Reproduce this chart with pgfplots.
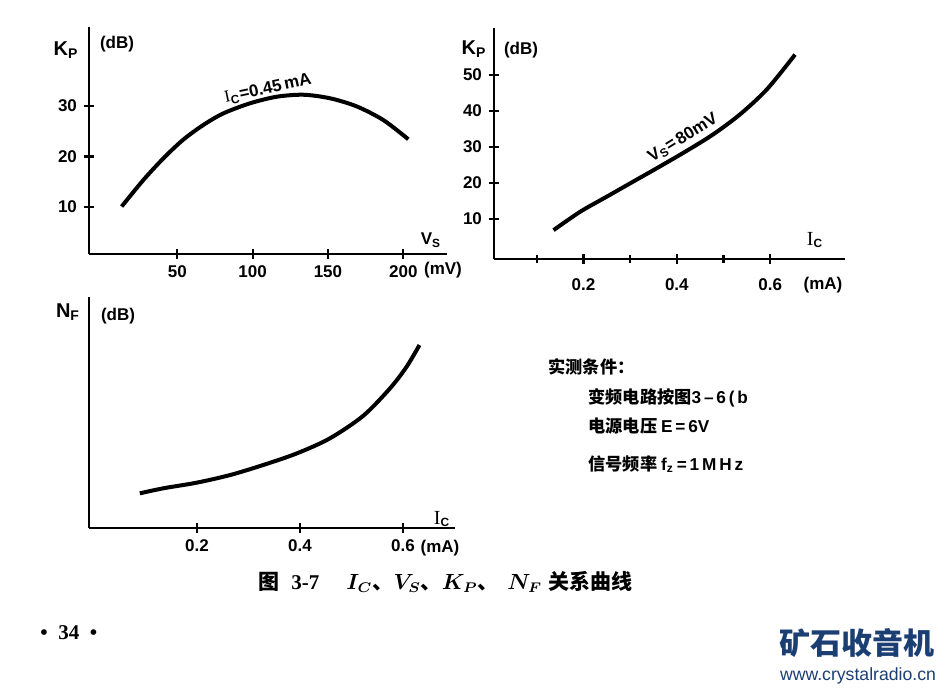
\documentclass[border=0pt]{standalone}
\usepackage{amsmath}
\usepackage{fontspec}
\usepackage{graphicx}
\usepackage{pgfplots}
\pgfplotsset{compat=1.18}
\setmainfont{Liberation Sans}
\newfontfamily\serif{Liberation Serif}
\newfontfamily\cjk{Noto Sans CJK SC}
\definecolor{logo}{HTML}{1B3F73}
\pgfplotsset{panel/.style={
  scale only axis, anchor=south west,
  axis x line=bottom, axis y line=left,
  axis line style={-, line width=1.3pt},
  tick align=center, major tick length=5pt, minor tick length=4pt,
  every tick/.style={line width=1.1pt, black},
  tick label style={font=\bfseries\fontsize{8.5}{10}\selectfont},
  /pgf/number format/assume math mode=true,
  clip=false}}
\begin{document}
\begin{tikzpicture}
\begin{scope}[x=0.5pt,y=-0.5pt,yshift=344pt]
\useasboundingbox (0,0) rectangle (945,688);
\end{scope}
% ---- panel 1: K_P vs V_S
\begin{axis}[panel, at={(44.5pt,217pt)}, width=179pt, height=113.5pt,
  xmin=-8.6, xmax=229, ymin=0.7, ymax=45.6,
  xtick={50,100,150,200}, ytick={10,20,30}]
\addplot[smooth, line width=2pt] coordinates {
(13.1,10.1) (27.4,15.3) (40.7,19.6) (53.9,23.3) (67.2,26.2) (80.5,28.5) (98.2,30.5) (115.9,31.8) (133.6,32.2) (151.3,31.5) (169.0,29.9) (186.7,27.2) (203.3,23.4)};
\end{axis}
% ---- panel 2: K_P vs I_C
\begin{axis}[panel, at={(247pt,214.5pt)}, width=175.5pt, height=115.5pt,
  xmin=0.0086, xmax=0.76, ymin=-1.1, ymax=63,
  xticklabel style={yshift=-4pt},
  xtick={0.2,0.4,0.6}, minor xtick={0.1,0.3,0.5}, ytick={10,20,30,40,50}]
\addplot[smooth, line width=2pt] coordinates {
(0.136,6.9) (0.193,12.0) (0.250,16.2) (0.307,20.4) (0.364,24.6) (0.421,28.9) (0.478,33.5) (0.535,39.0) (0.593,46.0) (0.653,55.6)};
\end{axis}
% ---- panel 3: N_F vs I_C
\begin{axis}[panel, at={(44.5pt,80pt)}, width=183pt, height=115.5pt,
  xmin=-0.0097, xmax=0.701, ymin=0, ymax=10,
  xtick={0.2,0.4,0.6}, ytick=\empty]
\addplot[smooth, line width=2pt] coordinates {
(0.089,1.50) (0.135,1.72) (0.199,1.96) (0.264,2.29) (0.329,2.73) (0.394,3.23) (0.458,3.88) (0.523,4.86) (0.575,6.05) (0.607,6.98) (0.632,7.92)};
\end{axis}
\begin{scope}[x=0.5pt,y=-0.5pt,yshift=344pt, font=\bfseries\fontsize{8.5}{10}\selectfont]
% panel 1 labels
\node at (66,50) {\fontsize{10}{12}\selectfont K\textsubscript{P}};
\node at (117,44) {(dB)};
\node at (431,240) {V\textsubscript{S}};
\node at (443,270) {(mV)};
\node[rotate=12] at (268,89) {{\serif\mdseries I}\textsubscript{C}=0.45\,mA};
% panel 2 labels
\node at (474,49) {\fontsize{10}{12}\selectfont K\textsubscript{P}};
\node at (521,50) {(dB)};
\node at (815,240) {{\serif\mdseries\fontsize{10}{12}\selectfont I}\textsubscript{C}};
\node at (823,285) {(mA)};
\node[rotate=32] at (683,138) {V\textsubscript{S}=\,80mV};
% panel 3 labels
\node at (68,312) {\fontsize{10}{12}\selectfont N\textsubscript{F}};
\node at (118,316) {(dB)};
\node at (442,519) {{\serif\mdseries\fontsize{10}{12}\selectfont I}\textsubscript{C}};
\node at (440,548) {(mA)};
% conditions
\begin{scope}[every node/.style={anchor=west, inner sep=0pt, font=\cjk\bfseries\fontsize{8.6}{10}\selectfont}]
\node at (548,367) {实测条件：};
\node at (588,398) {变频电路按图{\fontspec{Liberation Sans}\bfseries 3\,–\,6\,(\,b}};
\node at (588,426) {电源电压\ {\fontspec{Liberation Sans}\bfseries E\,=\,6V}};
\node at (588,464) {信号频率\ {\fontspec{Liberation Sans}\bfseries f\textsubscript{z}\,=\,1\,M\,H\,z}};
\end{scope}
% caption
\node[anchor=west, inner sep=0pt] at (258,582) {{\cjk\bfseries\fontsize{10.5}{12}\selectfont 图}\hspace{0.7em}{\serif\bfseries\fontsize{10.5}{12}\selectfont 3-7}\hspace{1.6em}\fontsize{10.5}{12}\selectfont$\boldsymbol{I_{C}}${\cjk 、}$\boldsymbol{V_{S}}${\cjk 、}$\boldsymbol{K_{P}}${\cjk 、}\hspace{0.4em}$\boldsymbol{N_{F}}$\hspace{0.3em}{\cjk\bfseries 关系曲线}};
% page number
\node[anchor=west, inner sep=0pt] at (40,633) {\serif\bfseries\fontsize{10.5}{12}\selectfont \textbullet\ \ 34\ \ \textbullet};
% logo
\node[inner sep=0pt, text=logo] at (857,643) {\resizebox{77.5pt}{13pt}{\cjk\bfseries 矿石收音机}};
\node[inner sep=0pt, text=logo] at (858,676) {\resizebox{78pt}{!}{\mdseries www.crystalradio.cn}};
\end{scope}
\end{tikzpicture}
\end{document}
